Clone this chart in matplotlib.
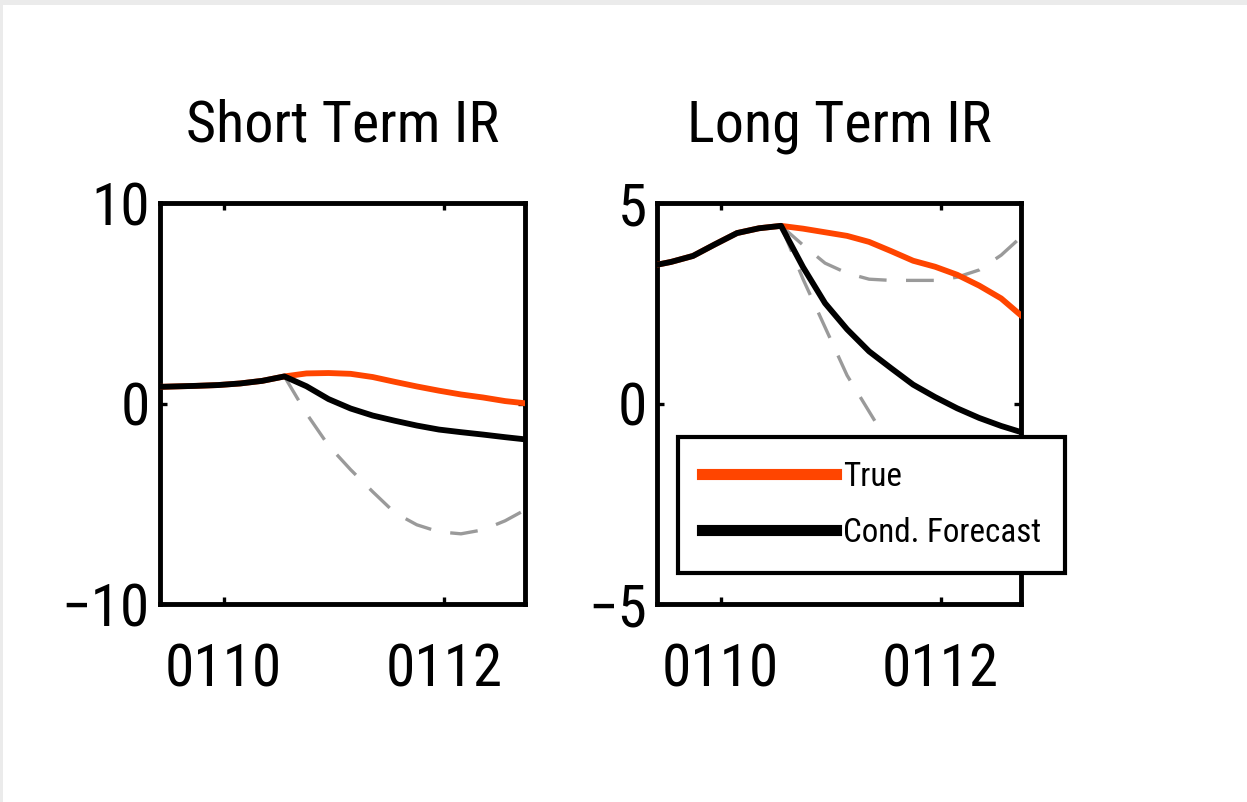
import matplotlib
matplotlib.use("Agg")
import matplotlib.pyplot as plt
import matplotlib.font_manager as fm
from matplotlib.patches import Rectangle
from matplotlib.textpath import TextPath

# ---------------- data ----------------
titles = ["Short Term IR", "Long Term IR"]
xtick_pos = [0, 2]
xtick_labels = ["0110", "0112"]
st_yticks = [-10, 0, 10]
lt_yticks = [-5, 0, 5]
legend_labels = ["True", "Cond. Forecast"]

# time in months relative to 0110
t_hist = [-0.65, -0.45, -0.25, -0.05, 0.15, 0.35, 0.55]
t_fcst = [0.55, 0.75, 0.95, 1.15, 1.35, 1.55, 1.75, 1.95, 2.15, 2.35, 2.55, 2.75]

# Short term interest rate
st_hist = [0.82, 0.85, 0.88, 0.92, 1.00, 1.13, 1.35]
st_true = [1.35, 1.50, 1.52, 1.48, 1.32, 1.08, 0.85, 0.64, 0.45, 0.30, 0.12, 0.00]
st_cond = [1.35, 0.86, 0.22, -0.25, -0.60, -0.86, -1.10, -1.30, -1.43, -1.55, -1.68, -1.80]
st_low = [1.35, -0.50, -2.10, -3.30, -4.40, -5.45, -6.05, -6.40, -6.50, -6.30, -5.85, -5.25]

# Long term interest rate
lt_hist = [3.42, 3.53, 3.68, 3.97, 4.25, 4.37, 4.43]
lt_true = [4.43, 4.36, 4.27, 4.18, 4.03, 3.80, 3.56, 3.41, 3.21, 2.94, 2.62, 2.15]
lt_cond = [4.43, 3.40, 2.50, 1.85, 1.30, 0.88, 0.47, 0.16, -0.12, -0.36, -0.56, -0.73]
lt_low = [4.43, 3.10, 1.90, 0.70, -0.20, -1.10, -1.80, -2.40, -2.80, -3.00, -3.10, -3.10]
lt_high = [4.43, 3.95, 3.50, 3.25, 3.10, 3.07, 3.07, 3.07, 3.15, 3.33, 3.70, 4.20]

# ---------------- font choice (prefer a narrow face) ----------------
def pick_font():
    entries = fm.fontManager.ttflist
    def regular(f):
        return f.style == "normal" and str(f.weight).lower() in ("400", "normal", "regular", "book")
    prefs = [
        lambda f: f.name == "Liberation Sans Narrow",
        lambda f: f.name == "Roboto Condensed",
        lambda f: f.name.startswith("Noto Sans") and "Condensed" in f.name and "Semi" not in f.name and "Extra" not in f.name and "CJK" not in f.name,
        lambda f: f.name == "DejaVu Sans" and f.stretch == "condensed",
        lambda f: f.name == "Noto Sans" and f.stretch == "condensed",
        lambda f: ("Narrow" in f.name or "Condensed" in f.name) and "CJK" not in f.name,
        lambda f: f.stretch == "condensed" and "CJK" not in f.name,
        lambda f: f.name == "Liberation Sans",
    ]
    for p in prefs:
        for f in entries:
            if regular(f) and p(f):
                return f.fname
    return None

fpath = pick_font()
base_fp = fm.FontProperties(fname=fpath) if fpath else fm.FontProperties(family="DejaVu Sans")

def ink(s, size):
    ext = TextPath((0, 0), s, size=size, prop=base_fp).get_extents()
    return ext.width * 100 / 72, ext.height * 100 / 72   # px

def fit_size(s, target_w, target_h, ww=0.65):
    w, h = ink(s, 10)
    sw = 10 * target_w / w
    sh = 10 * target_h / h
    return sw ** ww * sh ** (1 - ww)

TICK_FS = fit_size("0110", 100, 52)
TITLE_FS = fit_size("Short Term IR", 281, 53)
LEG_FS = fit_size("Cond. Forecast", 190, 28, ww=0.8)
digit_h = ink("0", TICK_FS)[1]
cap_h = ink("T", TITLE_FS)[1]

def fp(size):
    p = base_fp.copy()
    p.set_size(size)
    return p

plt.rcParams["lines.scale_dashes"] = False

RED = "#ff4500"
GRAY = "#9a9a9a"
W, H = 1247, 802
PX = 72 / 100  # points per pixel

fig = plt.figure(figsize=(W / 100, H / 100), dpi=100, facecolor="white")
fig.patches.append(Rectangle((0, 1 - 5 / H), 1, 5 / H, transform=fig.transFigure,
                             facecolor="#ebebeb", edgecolor="none", zorder=0))
fig.patches.append(Rectangle((0, 0), 3 / W, 1, transform=fig.transFigure,
                             facecolor="#ebebeb", edgecolor="none", zorder=0))

ax1 = fig.add_axes([160 / W, 1 - 604 / H, 365 / W, 401 / H])
ax2 = fig.add_axes([657 / W, 1 - 604 / H, 364 / W, 401 / H])

def draw(ax, hist, true, cond, bands, ylim, yticks, title):
    for b in bands:
        ax.plot(t_fcst, b, color=GRAY, lw=2.4, dashes=(20, 14), zorder=2)
    ax.plot(t_hist + t_fcst[1:], hist + true[1:], color=RED, lw=4.2, zorder=3,
            solid_joinstyle="round", solid_capstyle="butt")
    ax.plot(t_hist + t_fcst[1:], hist + cond[1:], color="black", lw=4.2, zorder=4,
            solid_joinstyle="round", solid_capstyle="butt")
    ax.set_xlim(-0.577, 2.73)
    ax.set_ylim(*ylim)
    ax.set_xticks(xtick_pos)
    ax.set_xticklabels(xtick_labels, fontproperties=fp(TICK_FS))
    ax.set_yticks(yticks)
    ax.set_yticklabels([str(v).replace("-", "\u2212") for v in yticks],
                       fontproperties=fp(TICK_FS))
    ax.tick_params(direction="in", top=True, right=True, length=5, width=2.4,
                   colors="black")
    ax.tick_params(axis="x", pad=(663 - digit_h / 2 - 604) * PX)
    ax.tick_params(axis="y", pad=10 * PX)
    for s in ax.spines.values():
        s.set_linewidth(3.5)
        s.set_color("black")
    ax.set_title(title, fontproperties=fp(TITLE_FS),
                 pad=(203 - (120.5 + cap_h / 2)) * PX)

draw(ax1, st_hist, st_true, st_cond, [st_low], (-10, 10), st_yticks, titles[0])
draw(ax2, lt_hist, lt_true, lt_cond, [lt_low, lt_high], (-5, 5), lt_yticks, titles[1])

F = LEG_FS * 100 / 72  # legend font size in px
h_true, = ax2.plot([], [], color=RED, lw=8)
h_cond, = ax2.plot([], [], color="black", lw=8)
leg = ax2.legend([h_true, h_cond], legend_labels, loc="upper left",
                 bbox_to_anchor=(678 / W, 1 - 437 / H), bbox_transform=fig.transFigure,
                 borderaxespad=0, prop=fp(LEG_FS), handlelength=134 / F,
                 handletextpad=7 / F, borderpad=24 / F, labelspacing=24 / F,
                 fancybox=False, framealpha=1, edgecolor="black")
leg.get_frame().set_linewidth(3)
leg.set_zorder(10)

fig.savefig("out.png", dpi=100, facecolor="white")
